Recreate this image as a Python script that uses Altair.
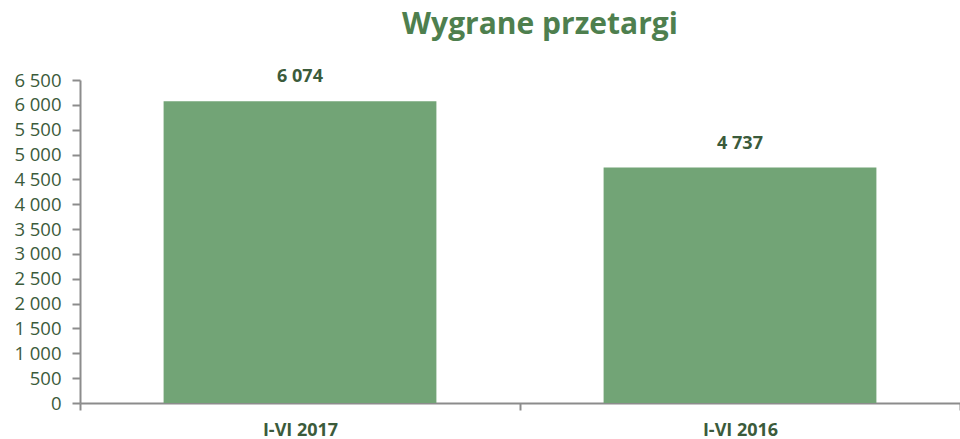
import altair as alt
import pandas as pd

categories = ["I-VI 2017", "I-VI 2016"]
values = [6074, 4737]
labels = ["6 074", "4 737"]

df = pd.DataFrame({"cat": categories, "val": values, "lab": labels})

FONT = "Open Sans"
GREEN_TXT = "#3b5b3b"

x = alt.X("cat:N", sort=categories, title=None,
          scale=alt.Scale(paddingInner=0, paddingOuter=0),
          axis=alt.Axis(labelAngle=0, tickBand="extent", labelFont=FONT,
                        labelFontSize=18, labelFontWeight="bold", labelColor=GREEN_TXT,
                        labelPadding=11, tickSize=7, tickColor="#8c8c8c", tickWidth=2,
                        domainColor="#8c8c8c", domainWidth=2))
y = alt.Y("val:Q", title=None,
          scale=alt.Scale(domain=[0, 6500], nice=False),
          axis=alt.Axis(values=list(range(0, 7000, 500)), grid=False, labelOverlap=False,
                        labelExpr="replace(format(datum.value, ','), ',', ' ')",
                        labelFont=FONT, labelFontSize=18.5, labelColor=GREEN_TXT,
                        labelPadding=11, tickSize=8, tickColor="#8c8c8c", tickWidth=2,
                        domainColor="#8c8c8c", domainWidth=2))

bars = alt.Chart(df).mark_bar(color="#72a476", width={"band": 0.62}).encode(x=x, y=y)
text = alt.Chart(df).mark_text(dy=-15, font=FONT, fontSize=18, fontWeight="bold",
                               color=GREEN_TXT, baseline="bottom").encode(
    x=x, y=y, text="lab:N")

chart = (bars + text).properties(
    width=880, height=323,
    title=alt.TitleParams("Wygrane przetargi", font=FONT, fontSize=30, fontWeight="bold",
                          color="#4e7f4e", anchor="middle", frame="group", offset=4,
                          dx=20, baseline="alphabetic"),
    autosize=alt.AutoSizeParams(type="none"),
    padding={"left": 80, "top": 80, "right": 0, "bottom": 36},
).configure_view(stroke=None)

chart.save("out.html", embed_options={"renderer": "svg", "actions": False})
